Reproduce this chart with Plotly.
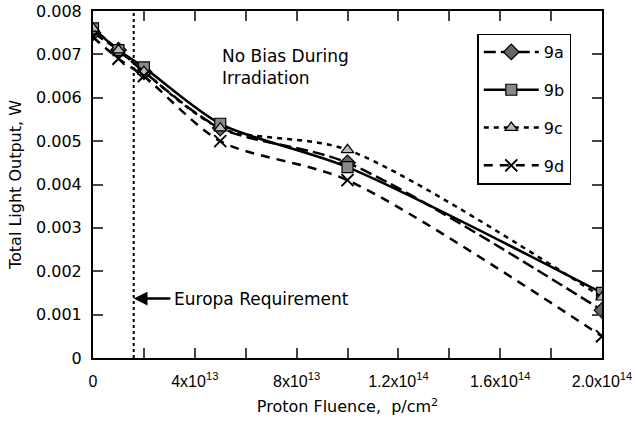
import plotly.graph_objects as go

fluence = [0, 1e13, 2e13, 5e13, 1e14, 2e14]
s9a = [0.0075, 0.0071, 0.0066, 0.0053, 0.0045, 0.0011]
s9b = [0.0076, 0.0071, 0.0067, 0.0054, 0.0044, 0.0015]
s9c = [0.0076, 0.0071, 0.0066, 0.0053, 0.0048, 0.0014]
s9d = [0.0074, 0.0069, 0.0065, 0.0050, 0.0041, 0.0005]
names = ["9a", "9b", "9c", "9d"]

xtick_vals = [0, 2e13, 4e13, 6e13, 8e13, 1e14, 1.2e14, 1.4e14, 1.6e14, 1.8e14, 2e14]
xtick_text = ["0", "", "4x10<sup>13</sup>", "", "8x10<sup>13</sup>", "",
              "1.2x10<sup>14</sup>", "", "1.6x10<sup>14</sup>", "", "2.0x10<sup>14</sup>"]
ytick_vals = [0, 0.001, 0.002, 0.003, 0.004, 0.005, 0.006, 0.007, 0.008]
ytick_text = ["0", "0.001", "0.002", "0.003", "0.004", "0.005", "0.006", "0.007", "0.008"]
europa = 1.6e13

styles = [
    dict(dash="12px,5px", symbol="diamond", color="#666", size=12),
    dict(dash="solid", symbol="square", color="#888", size=11),
    dict(dash="5px,5px", symbol="triangle-up", color="#bbb", size=11),
    dict(dash="9px,7px", symbol="x-thin", color="black", size=12),
]

FONT = dict(family="DejaVu Sans, sans-serif", size=16, color="black")
BIG = dict(family="DejaVu Sans, sans-serif", size=17, color="black")
XTICK = dict(family="Liberation Sans, Arial, sans-serif", size=16, color="black")

fig = go.Figure()
for name, ys, st in zip(names, [s9a, s9b, s9c, s9d], styles):
    fig.add_trace(go.Scatter(
        x=fluence, y=ys, name=name, mode="lines+markers",
        line=dict(color="black", width=2.5, dash=st["dash"], shape="spline", smoothing=0.8),
        marker=dict(symbol=st["symbol"], size=st["size"], color=st["color"],
                    line=dict(color="black", width=2 if st["symbol"] == "x-thin" else 1.2)),
        legendgroup=name,
    ))

fig.add_shape(type="line", x0=europa, x1=europa, y0=0, y1=0.008, xref="x", yref="y",
              line=dict(color="black", width=2, dash="dot"))

fig.add_annotation(x=europa, y=0.00137, ax=3.1e13, ay=0.00137, axref="x", ayref="y",
                   xref="x", yref="y", text="", showarrow=True, arrowhead=2,
                   arrowsize=1.1, arrowwidth=2.5, arrowcolor="black", standoff=0)
fig.add_annotation(x=3.1e13, y=0.00137, xref="x", yref="y", text="Europa Requirement",
                   showarrow=False, xanchor="left", font=BIG)
fig.add_annotation(x=5e13, y=0.0067, xref="x", yref="y", text="No Bias During<br>Irradiation",
                   showarrow=False, xanchor="left", align="left", font=BIG)

fig.update_layout(
    width=635, height=421,
    margin=dict(l=93, r=33, t=11, b=63),
    paper_bgcolor="white", plot_bgcolor="white",
    font=FONT,
    showlegend=True,
    legend=dict(x=0.755, y=0.935, xanchor="left", yanchor="top",
                bordercolor="black", borderwidth=1.5, bgcolor="white",
                traceorder="grouped", tracegroupgap=14, font=FONT,
                itemwidth=55),
)
fig.update_xaxes(range=[0, 2e14], tickvals=xtick_vals, ticktext=xtick_text,
                 ticks="inside", ticklen=10, tickwidth=1.5, mirror="ticks",
                 tickfont=XTICK, ticklabelstandoff=8, automargin=False,
                 ticklabeloverflow="allow",
                 showline=True, linecolor="black", linewidth=2, showgrid=False, zeroline=False,
                 title=dict(text="Proton Fluence,  p/cm<sup>2</sup>", font=FONT, standoff=12))
fig.update_yaxes(range=[0, 0.008], tickvals=ytick_vals, ticktext=ytick_text,
                 ticks="inside", ticklen=10, tickwidth=1.5, mirror="ticks",
                 tickfont=FONT, ticklabelstandoff=6, automargin=False,
                 ticklabeloverflow="allow",
                 showline=True, linecolor="black", linewidth=2, showgrid=False, zeroline=False,
                 title=dict(text="Total Light Output, W", font=FONT, standoff=10))

fig.write_html("out.html")
